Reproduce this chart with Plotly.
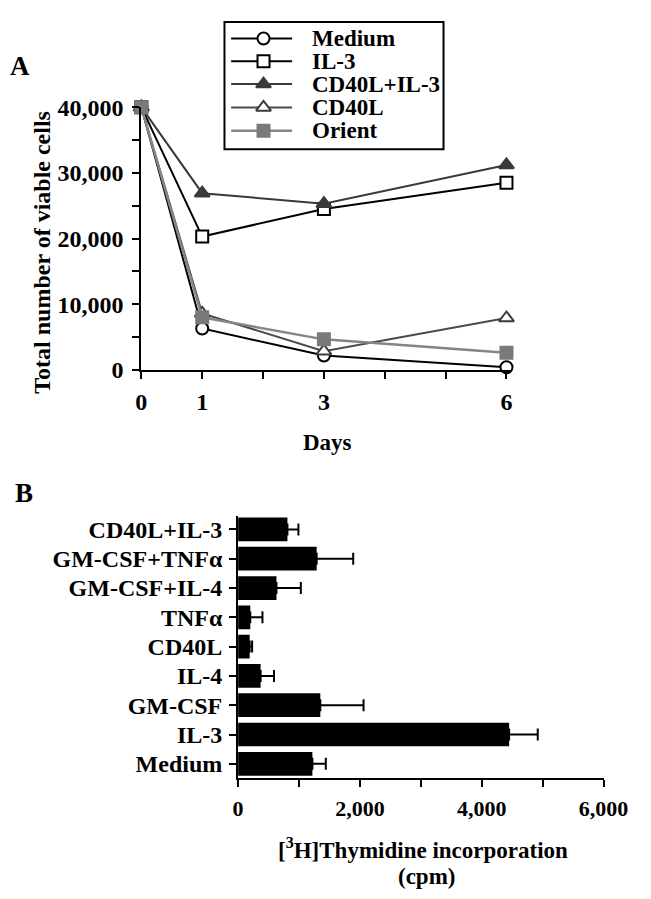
import plotly.graph_objects as go

# ---------------- data ----------------
days = [0, 1, 3, 6]
series_names = ["Medium", "IL-3", "CD40L+IL-3", "CD40L", "Orient"]
medium = [40000, 6300, 2200, 400]
il3 = [40000, 20300, 24500, 28500]
cd40l_il3 = [40000, 26900, 25300, 31200]
cd40l = [40000, 8600, 2850, 7900]
orient = [40000, 8000, 4650, 2600]
series_values = [medium, il3, cd40l_il3, cd40l, orient]

day_tickvals = [0, 1, 3, 6]
day_ticktext = ["0", "1", "3", "6"]
cells_tickvals = [0, 10000, 20000, 30000, 40000]
cells_ticktext = ["0", "10,000", "20,000", "30,000", "40,000"]

categories = ["Medium", "IL-3", "GM-CSF", "IL-4", "CD40L", "TNFα",
              "GM-CSF+IL-4", "GM-CSF+TNFα", "CD40L+IL-3"]
cpm = [1220, 4450, 1350, 370, 190, 200, 630, 1290, 810]
cpm_err = [220, 470, 710, 220, 40, 200, 400, 600, 180]
cpm_tickvals = [0, 2000, 4000, 6000]
cpm_ticktext = ["0", "2,000", "4,000", "6,000"]

# ---------------- styles ----------------
W, H = 651, 899
OFF = 8  # page body margin offset (px)
FONT = "Liberation Serif"
styles = [
    dict(line="#000000", lw=2.0, sym="circle", mfill="white", mline="#000000", ms=12),
    dict(line="#000000", lw=2.0, sym="square", mfill="white", mline="#000000", ms=12),
    dict(line="#3a3a3a", lw=2.0, sym="triangle-up", mfill="#3a3a3a", mline="#3a3a3a", ms=13),
    dict(line="#4a4a4a", lw=2.0, sym="triangle-up", mfill="white", mline="#3a3a3a", ms=13),
    dict(line="#858585", lw=2.5, sym="square", mfill="#7a7a7a", mline="#7a7a7a", ms=12),
]

def px_x(p):
    return (p - OFF) / W

def px_y(p):
    return 1 - (p - OFF) / H

def bfont(size):
    return dict(family=FONT, size=size, color="black", weight="bold")

fig = go.Figure()

# ---------------- panel A ----------------
for name, vals, st in zip(series_names, series_values, styles):
    fig.add_trace(go.Scatter(
        x=days, y=vals, name=name, mode="lines+markers",
        line=dict(color=st["line"], width=st["lw"]),
        marker=dict(symbol=st["sym"], size=st["ms"], color=st["mfill"],
                    line=dict(color=st["mline"], width=2)),
        cliponaxis=False, showlegend=False, xaxis="x", yaxis="y"))

# ---------------- panel B ----------------
fig.add_trace(go.Bar(
    y=categories, x=cpm, orientation="h", width=0.81,
    marker=dict(color="black", line=dict(width=0)),
    error_x=dict(type="data", array=cpm_err, arrayminus=[0] * len(cpm_err),
                 symmetric=False, color="black", thickness=2, width=6),
    showlegend=False, xaxis="x2", yaxis="y2"))

# ---------------- manual legend (page-pixel overlay axis) ----------------
LEG_X0, LEG_X1, LEG_Y0, LEG_Y1 = 229, 459, 9, 140
leg_rows = [26, 49.5, 73, 97, 121]
LINE_X0, LINE_X1, MARK_X, TEXT_X = 236, 300, 270, 319
for name, st, ry in zip(series_names, styles, leg_rows):
    fig.add_trace(go.Scatter(
        x=[LINE_X0, LINE_X1], y=[ry, ry], mode="lines",
        line=dict(color=st["line"], width=st["lw"]),
        showlegend=False, hoverinfo="skip", xaxis="x3", yaxis="y3"))
    fig.add_trace(go.Scatter(
        x=[MARK_X], y=[ry], mode="markers",
        marker=dict(symbol=st["sym"], size=st["ms"], color=st["mfill"],
                    line=dict(color=st["mline"], width=2)),
        showlegend=False, hoverinfo="skip", xaxis="x3", yaxis="y3"))
    fig.add_annotation(x=TEXT_X, y=ry, xref="x3", yref="y3", text=name,
                       showarrow=False, xanchor="left", yanchor="middle",
                       font=bfont(23))

fig.add_shape(type="rect", xref="x3", yref="y3", x0=LEG_X0, x1=LEG_X1, y0=LEG_Y0, y1=LEG_Y1,
              line=dict(color="black", width=2), fillcolor="rgba(0,0,0,0)", layer="below")

# ---------------- layout ----------------
A_X0, A_PXDAY = 141.7, 63.9
A_XMAX = 6.05
A_YTOP, A_YBOT = 96.7, 367.3
B_X0, B_X1 = 243.3, 627.0
B_YTOP, B_YBOT = 518.0, 788.0

axis_common = dict(showline=True, linecolor="black", linewidth=2, ticks="outside",
                   ticklen=7, tickwidth=2, tickcolor="black", showgrid=False,
                   zeroline=False, fixedrange=True)

fig.update_layout(
    width=W, height=H, margin=dict(l=0, r=0, t=0, b=0),
    paper_bgcolor="white", plot_bgcolor="rgba(0,0,0,0)",
    font=bfont(23),
    xaxis=dict(domain=[px_x(A_X0), px_x(A_X0 + A_XMAX * A_PXDAY)], range=[0, A_XMAX],
               tickvals=day_tickvals, ticktext=day_ticktext, anchor="y",
               minor=dict(dtick=1, tick0=0, ticks="outside", ticklen=7, tickwidth=2,
                          tickcolor="black", showgrid=False),
               ticklabelstandoff=2, tickfont=bfont(24), **axis_common),
    yaxis=dict(domain=[px_y(A_YBOT), px_y(A_YTOP)], range=[0, 40000],
               tickvals=cells_tickvals, ticktext=cells_ticktext, anchor="x",
               minor=dict(dtick=5000, tick0=0, ticks="outside", ticklen=7, tickwidth=2,
                          tickcolor="black", showgrid=False),
               ticklabelstandoff=4, tickfont=bfont(24), **axis_common),
    xaxis2=dict(domain=[px_x(B_X0), px_x(B_X1)], range=[0, 6000],
                tickvals=cpm_tickvals, ticktext=cpm_ticktext, anchor="y2",
                minor=dict(dtick=1000, tick0=0, ticks="outside", ticklen=7, tickwidth=2,
                           tickcolor="black", showgrid=False),
                ticklabelstandoff=2, tickfont=bfont(22), **axis_common),
    yaxis2=dict(domain=[px_y(B_YBOT), px_y(B_YTOP)], range=[-0.5, 8.45],
                type="category", categoryorder="array", categoryarray=categories,
                anchor="x2", ticklabelstandoff=2, tickfont=bfont(24), **axis_common),
    xaxis3=dict(domain=[0, 1], range=[OFF, W + OFF], visible=False, anchor="y3",
                fixedrange=True),
    yaxis3=dict(domain=[0, 1], range=[H + OFF, OFF], visible=False, anchor="x3",
                fixedrange=True),
    bargap=0.19,
)

def label(text, x, y, size=23, angle=0):
    fig.add_annotation(x=px_x(x), y=px_y(y), xref="paper", yref="paper",
                       text=text, showarrow=False, textangle=angle,
                       xanchor="center", yanchor="middle", font=bfont(size))

label("A", 14, 54, size=27)
label("B", 19, 494, size=27)
label("Days", 337, 442)
label("Total number of viable cells", 37, 246, size=24, angle=-90)
label("[<sup>3</sup>H]Thymidine incorporation", 437, 860)
label("(cpm)", 441, 889)

fig.write_html("out.html")
